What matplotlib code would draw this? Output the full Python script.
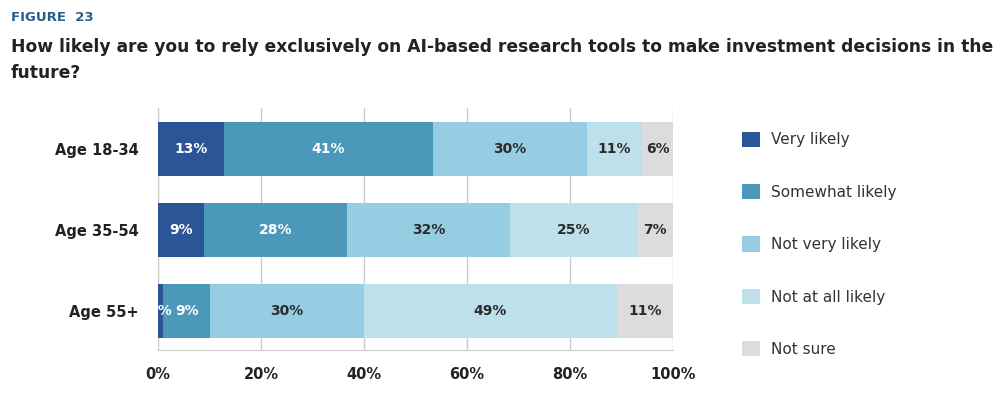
import matplotlib
matplotlib.use("Agg")
import matplotlib.pyplot as plt
import numpy as np

groups = ["Age 18-34", "Age 35-54", "Age 55+"]
categories = ["Very likely", "Somewhat likely", "Not very likely",
              "Not at all likely", "Not sure"]
# segment widths (percent)
values = {
    "Very likely":       [12.8, 8.9, 1.0],
    "Somewhat likely":   [40.6, 27.8, 9.1],
    "Not very likely":   [29.9, 31.6, 29.9],
    "Not at all likely": [10.7, 24.7, 49.1],
    "Not sure":          [6.0, 7.0, 10.9],
}
# printed labels
labels = {
    "Very likely":       ["13%", "9%", "1%"],
    "Somewhat likely":   ["41%", "28%", "9%"],
    "Not very likely":   ["30%", "32%", "30%"],
    "Not at all likely": ["11%", "25%", "49%"],
    "Not sure":          ["6%", "7%", "11%"],
}
colors = ["#2a5596", "#4b98bb", "#96cde3", "#bde0ea", "#dcdcdc"]
text_colors = ["white", "white", "#2b2b2b", "#2b2b2b", "#2b2b2b"]
xticks = [0, 20, 40, 60, 80, 100]

plt.rcParams["font.family"] = ["DejaVu Sans"]

fig = plt.figure(figsize=(10, 3.93), dpi=100)
ax = fig.add_axes([0.158, 0.109, 0.515, 0.616])

y = np.arange(len(groups))
left = np.zeros(len(groups))
for cat, col, tc in zip(categories, colors, text_colors):
    vals = np.array(values[cat])
    bars = ax.barh(y, vals, left=left, height=0.667, color=col, label=cat,
                   zorder=3)
    for i, b in enumerate(bars):
        ax.text(left[i] + vals[i] / 2, y[i], labels[cat][i], ha="center",
                va="center", color=tc, fontsize=10, fontweight="bold",
                zorder=4)
    left += vals

ax.set_xlim(0, 100)
ax.set_ylim(2.49, -0.51)
ax.set_yticks(y)
ax.set_yticklabels(groups, fontsize=10.5, fontweight="bold", color="#222222")
ax.set_xticks(xticks)
ax.set_xticklabels([f"{t}%" for t in xticks], fontsize=10.5,
                   fontweight="bold", color="#222222")
ax.tick_params(length=0, pad=12)
ax.tick_params(axis="y", pad=14)
ax.grid(axis="x", color="#cccccc", linewidth=1, zorder=0)
for s in ["top", "right"]:
    ax.spines[s].set_visible(False)
for s in ["left", "bottom"]:
    ax.spines[s].set_color("#cccccc")

ax.legend(loc="upper left", bbox_to_anchor=(1.108, 0.96), frameon=False,
          fontsize=11, handlelength=1.15, handleheight=1.15,
          labelspacing=2.4, handletextpad=0.75, labelcolor="#333333")

fig.text(0.011, 0.955, "FIGURE  23", fontsize=9.5, fontweight="bold",
         color="#2a5b8f", va="center")
fig.text(0.011, 0.847,
         "How likely are you to rely exclusively on AI-based research tools to make investment decisions in the\nfuture?",
         fontsize=12.3, fontweight="bold", color="#222222", va="center",
         linespacing=1.55)

fig.savefig("out.png", dpi=100)
